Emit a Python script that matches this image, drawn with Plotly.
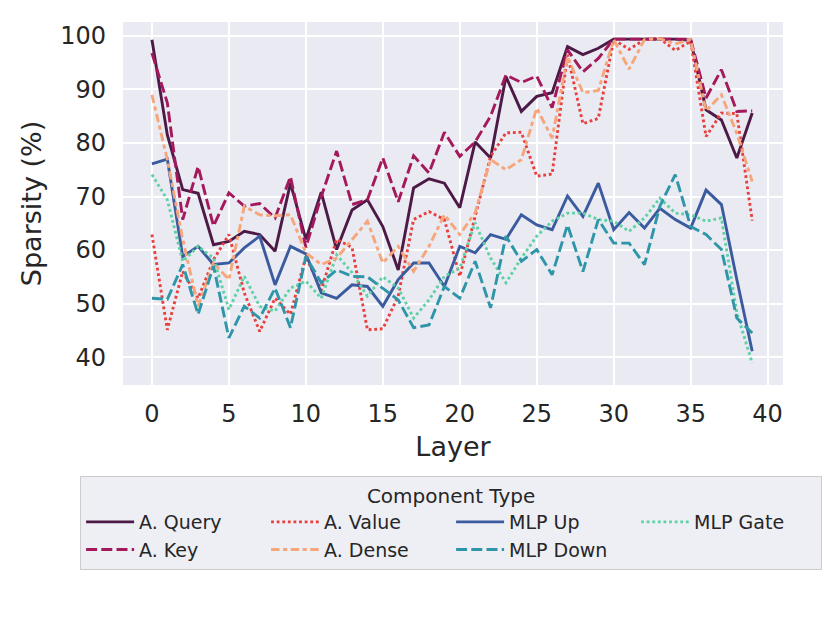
import plotly.graph_objects as go

layers = list(range(40))

query = [99.3, 81.5, 71.3, 70.6, 61.0, 61.6, 63.5, 62.9, 59.8, 72.5,
         62.0, 70.8, 60.1, 67.5, 69.4, 64.4, 56.3, 71.6, 73.3, 72.5,
         67.9, 80.2, 77.2, 92.4, 85.9, 88.7, 89.4, 98.0, 96.5, 97.7,
         99.4, 99.4, 99.4, 99.4, 99.4, 99.2, 86.2, 84.3, 77.2, 85.6]
key = [96.8, 87.5, 65.7, 75.6, 64.5, 70.7, 68.2, 68.7, 66.0, 73.7,
       60.5, 70.0, 78.5, 68.5, 69.4, 77.2, 69.0, 77.6, 74.4, 82.0,
       77.5, 80.2, 85.0, 92.7, 91.3, 92.5, 86.6, 97.4, 93.3, 95.8,
       99.4, 99.4, 99.4, 99.4, 99.4, 99.4, 88.4, 93.7, 85.9, 86.0]
value = [62.9, 45.1, 56.0, 51.0, 58.2, 62.9, 52.0, 44.8, 51.0, 48.0,
         58.8, 52.5, 62.0, 60.5, 45.1, 45.3, 51.4, 65.7, 67.2, 65.7,
         55.1, 66.5, 77.5, 81.9, 82.0, 73.8, 74.2, 96.5, 83.6, 84.6,
         99.3, 97.5, 99.3, 99.5, 97.3, 99.0, 81.2, 85.6, 85.5, 65.5]
dense = [89.0, 76.9, 62.0, 49.5, 57.6, 54.5, 68.2, 66.6, 66.4, 66.6,
         59.5, 57.3, 58.5, 62.0, 65.4, 57.6, 60.7, 56.0, 60.7, 66.6,
         62.9, 67.0, 76.9, 75.0, 76.9, 86.5, 80.9, 96.1, 89.4, 89.8,
         99.3, 93.8, 99.3, 99.5, 98.5, 99.3, 86.0, 89.0, 81.8, 72.8]
mlp_up = [76.1, 77.0, 58.8, 60.7, 57.3, 57.6, 60.4, 62.6, 53.5, 60.7,
          59.3, 52.0, 51.0, 53.5, 53.2, 49.5, 54.5, 57.6, 57.6, 53.2,
          60.7, 59.5, 62.9, 62.0, 66.6, 64.7, 63.8, 70.1, 66.3, 72.5,
          63.8, 67.0, 64.1, 67.8, 65.7, 64.1, 71.2, 68.5, 54.5, 41.1]
mlp_down = [51.0, 50.8, 57.3, 48.0, 57.0, 43.6, 49.5, 47.3, 52.9, 45.5,
            58.8, 53.9, 56.3, 55.1, 55.0, 52.9, 50.7, 45.5, 46.0, 53.2,
            51.0, 57.9, 49.2, 62.6, 57.9, 60.1, 55.4, 64.7, 56.0, 65.7,
            61.3, 61.3, 57.3, 68.2, 74.1, 64.4, 62.9, 60.1, 47.3, 44.5]
mlp_gate = [74.1, 69.4, 57.9, 60.7, 58.5, 48.9, 55.1, 49.5, 48.6, 52.9,
            54.2, 51.0, 59.1, 55.8, 51.4, 55.0, 52.9, 47.3, 50.7, 55.1,
            56.6, 65.1, 58.5, 53.9, 58.5, 62.6, 65.4, 66.9, 66.9, 65.7,
            65.4, 63.5, 66.0, 69.7, 66.9, 66.6, 65.4, 66.0, 48.3, 38.9]

# legend fills row by row, so order is by column
series = [
    ("A. Query", query, "#4d1a47", "solid"),
    ("A. Value", value, "#e8403e", "2.8px,2.8px"),
    ("MLP Up", mlp_up, "#3b5b9f", "solid"),
    ("MLP Gate", mlp_gate, "#5fd1a6", "2.8px,2.8px"),
    ("A. Key", key, "#a3195b", "11px,4.2px"),
    ("A. Dense", dense, "#f6a67b", "8.4px,3.5px,4.2px,3.5px"),
    ("MLP Down", mlp_down, "#2e96a8", "11px,4.2px"),
]

fig = go.Figure()
for name, ys, col, dash in series:
    fig.add_trace(go.Scatter(x=layers, y=ys, name=name, mode="lines",
                             line=dict(color=col, width=2.9, dash=dash)))

fig.update_layout(
    width=830, height=623,
    margin=dict(l=115, r=55, t=14, b=246),
    paper_bgcolor="white",
    plot_bgcolor="#eaeaf2",
    font=dict(family="DejaVu Sans", color="#262626", size=24),
    xaxis=dict(title=dict(text="Layer", font=dict(size=27), standoff=10),
               range=[-1.88, 41.0], tickvals=[0, 5, 10, 15, 20, 25, 30, 35, 40],
               showgrid=True, gridcolor="white", gridwidth=1.6,
               zeroline=False, ticks="", showline=False, ticklabelstandoff=12),
    yaxis=dict(title=dict(text="Sparsity (%)", font=dict(size=27), standoff=10),
               range=[34.8, 102.6], tickvals=[40, 50, 60, 70, 80, 90, 100],
               showgrid=True, gridcolor="white", gridwidth=1.6,
               zeroline=False, ticks="", showline=False, ticklabelstandoff=16),
    legend=dict(orientation="h", x=-0.065, xanchor="left", y=-0.2507, yanchor="top",
                title=dict(text="Component Type", side="top center",
                           font=dict(size=20)),
                font=dict(size=19), entrywidth=122, itemwidth=48,
                bgcolor="#eeeef5", bordercolor="#cccccc", borderwidth=1),
)

fig.write_html("out.html")
